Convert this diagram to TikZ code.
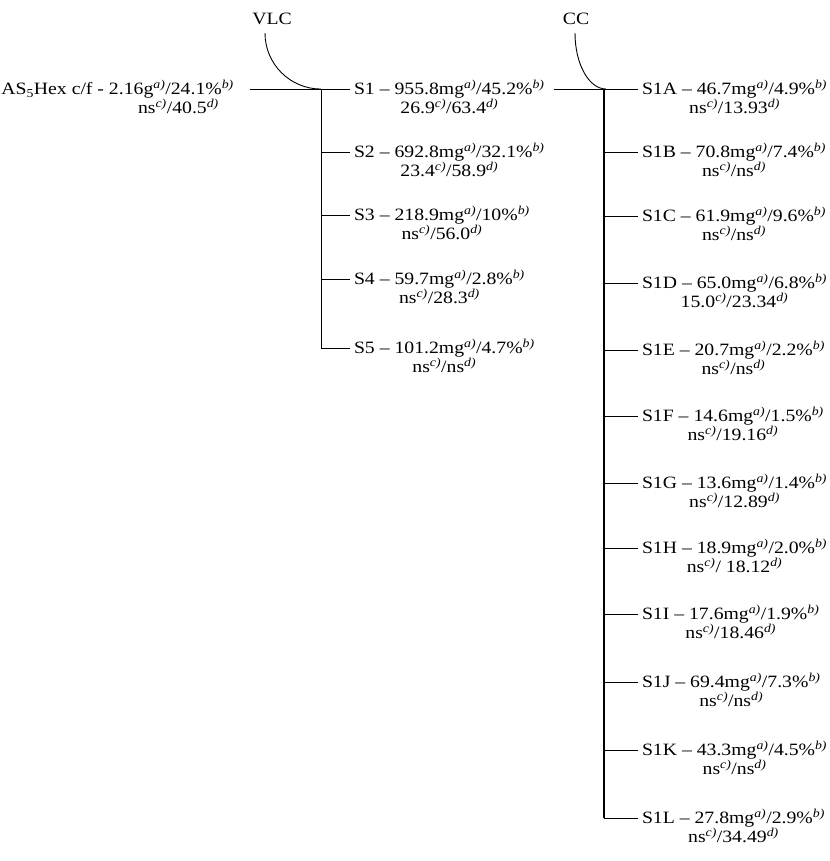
\documentclass[tikz,border=0pt]{standalone}
\usepackage{fontspec}
\setmainfont{Liberation Serif}[FakeStretch=1.14]
\newcommand\su[1]{\textsuperscript{\itshape #1)}}
\begin{document}
\begin{tikzpicture}[x=1pt,y=-1pt,
  lbl/.style={inner sep=0pt,outer xsep=4pt,align=center,anchor=west,font=\fontsize{17.3}{16.5}\selectfont},
  head/.style={inner sep=0pt,font=\fontsize{17.3}{16.5}\selectfont},
  ln/.style={line width=0.9pt},
  trunk/.style={line width=1.5pt}]
\useasboundingbox (0,0) rectangle (829,861);
% headers
\node[head] (vlc) at (272,19) {VLC};
\node[head] (cc) at (576,19) {CC};
% source
\node[inner sep=0pt,align=right,anchor=east,font=\fontsize{17.3}{16.5}\selectfont] (as) at (234,97)
  {AS\textsubscript{5}Hex c/f - 2.16g\su{a}/24.1\%\su{b}\\ns\su{c}/40.5\su{d}\hspace*{15pt}};
% junction points
\coordinate (v0) at (321,89);
\coordinate (l0) at (250,89);
\coordinate (c0) at (604,89);
% VLC fractions
\node[lbl] (s1) at (350,97) {S1 -- 955.8mg\su{a}/45.2\%\su{b}\\26.9\su{c}/63.4\su{d}};
\node[lbl] (s2) at (350,160) {S2 -- 692.8mg\su{a}/32.1\%\su{b}\\23.4\su{c}/58.9\su{d}};
\node[lbl] (s3) at (350,223) {S3 -- 218.9mg\su{a}/10\%\su{b}\\ns\su{c}/56.0\su{d}};
\node[lbl] (s4) at (350,287) {S4 -- 59.7mg\su{a}/2.8\%\su{b}\\ns\su{c}/28.3\su{d}};
\node[lbl] (s5) at (350,356) {S5 -- 101.2mg\su{a}/4.7\%\su{b}\\ns\su{c}/ns\su{d}};
\coordinate (v2) at (321,152);
\coordinate (v3) at (321,215);
\coordinate (v4) at (321,279);
\coordinate (v5) at (321,348);
% CC fractions
\node[lbl] (sa) at (638,97) {S1A -- 46.7mg\su{a}/4.9\%\su{b}\\ns\su{c}/13.93\su{d}};
\node[lbl] (sb) at (638,160) {S1B -- 70.8mg\su{a}/7.4\%\su{b}\\ns\su{c}/ns\su{d}};
\node[lbl] (sc) at (638,224) {S1C -- 61.9mg\su{a}/9.6\%\su{b}\\ns\su{c}/ns\su{d}};
\node[lbl] (sd) at (638,291) {S1D -- 65.0mg\su{a}/6.8\%\su{b}\\15.0\su{c}/23.34\su{d}};
\node[lbl] (se) at (638,358) {S1E -- 20.7mg\su{a}/2.2\%\su{b}\\ns\su{c}/ns\su{d}};
\node[lbl] (sf) at (638,424) {S1F -- 14.6mg\su{a}/1.5\%\su{b}\\ns\su{c}/19.16\su{d}};
\node[lbl] (sg) at (638,491) {S1G -- 13.6mg\su{a}/1.4\%\su{b}\\ns\su{c}/12.89\su{d}};
\node[lbl] (sh) at (638,556) {S1H -- 18.9mg\su{a}/2.0\%\su{b}\\ns\su{c}/ 18.12\su{d}};
\node[lbl] (si) at (638,622) {S1I -- 17.6mg\su{a}/1.9\%\su{b}\\ns\su{c}/18.46\su{d}};
\node[lbl] (sj) at (638,690) {S1J -- 69.4mg\su{a}/7.3\%\su{b}\\ns\su{c}/ns\su{d}};
\node[lbl] (sk) at (638,758) {S1K -- 43.3mg\su{a}/4.5\%\su{b}\\ns\su{c}/ns\su{d}};
\node[lbl] (sl) at (638,826) {S1L -- 27.8mg\su{a}/2.9\%\su{b}\\ns\su{c}/34.49\su{d}};
\coordinate (cb) at (604,152);
\coordinate (cc3) at (604,216);
\coordinate (cd) at (604,283);
\coordinate (ce) at (604,350);
\coordinate (cf) at (604,416);
\coordinate (cg) at (604,483);
\coordinate (ch) at (604,548);
\coordinate (ci) at (604,614);
\coordinate (cj) at (604,682);
\coordinate (ck) at (604,750);
\coordinate (cl) at (604,818);
% VLC connectors
\draw[ln] (vlc.south) ++(-7,8) arc[start angle=180,end angle=90,radius=56];
\draw[ln] (l0) -- (s1.west |- v0);
\draw[ln] (v0) -- (v5);
\foreach \p/\n in {v2/s2,v3/s3,v4/s4,v5/s5}
  \draw[ln] (\p) -- (\n.west |- \p);
% CC connectors
\draw[ln] (cc.south) ++(-1,8) arc[start angle=180,end angle=90,x radius=31,y radius=56];
\draw[ln] (s1.east |- c0) ++(5,0) -- (sa.west |- c0);
\draw[trunk] (c0) -- (cl);
\foreach \p/\n in {cb/sb,cc3/sc,cd/sd,ce/se,cf/sf,cg/sg,ch/sh,ci/si,cj/sj,ck/sk,cl/sl}
  \draw[ln] (\p) -- (\n.west |- \p);
\end{tikzpicture}
\end{document}
